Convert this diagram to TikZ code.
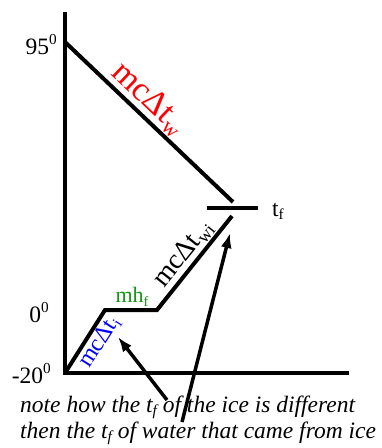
\documentclass[tikz,border=0pt]{standalone}
\usepackage{graphicx}
\usepackage{fontspec}
\setmainfont{Liberation Serif}
\usetikzlibrary{arrows.meta}
\definecolor{lblred}{RGB}{255,0,0}
\definecolor{lblgreen}{RGB}{20,150,20}
\definecolor{lblblue}{RGB}{0,0,255}
\newcommand\mysup[1]{\raisebox{0.42em}{\scalebox{0.65}{#1}}}
\newcommand\mysub[1]{\raisebox{-0.15em}{\scalebox{0.65}{#1}}}
\tikzset{
  curve/.style={line width=4pt},
  pointer/.style={line width=3.5pt,-{Latex[length=15pt,width=11pt]}},
  axlbl/.style={inner sep=0pt,font=\fontsize{23.5}{28}\selectfont},
  slopelbl/.style={sloped,inner sep=1pt},
  notetxt/.style={inner sep=0pt,anchor=base west,font=\fontsize{23.5}{28}\selectfont\itshape}
}
\begin{document}
\begin{tikzpicture}[x=1pt,y=-1pt]
\useasboundingbox (0,0) rectangle (382,448);
\coordinate (ytop) at (65,12);
\coordinate (orig) at (65,373);
\coordinate (xend) at (349,373);
\coordinate (w0) at (65,42);
\coordinate (w1) at (233,202);
\coordinate (barL) at (207,208);
\coordinate (barR) at (258,208);
\coordinate (i1) at (105,310);
\coordinate (i2) at (157,310);
\coordinate (i3) at (232,216);
\coordinate (n1) at (167,400);
\coordinate (n2) at (182,422);
\coordinate (tip1) at (118,337);
\coordinate (tip2) at (230,233);
% axes
\draw[curve] (ytop) -- (orig) -- (xend);
% water cooling
\draw[curve] (w0) -- node[slopelbl,above,pos=0.43,text=lblred,font=\fontsize{34}{38}\selectfont] (lw) {mcΔt\mysub{w}} (w1);
\draw[curve] (barL) -- (barR);
% ice heating
\draw[curve] (orig) -- node[slopelbl,below,pos=0.6,text=lblblue,font=\fontsize{24}{28}\selectfont] (li) {mcΔt\mysub{i}} (i1)
  -- node[above,inner sep=2pt,xshift=1pt,text=lblgreen,font=\fontsize{22}{26}\selectfont] (lh) {mh\mysub{f}} (i2)
  -- node[slopelbl,above,pos=0.5,font=\fontsize{28}{32}\selectfont] (lwi) {mcΔt\mysub{wi}} (i3);
% axis labels
\node[axlbl,anchor=base east] (l95) at (57,54) {95\mysup{0}};
\node[axlbl,anchor=base east] (l0) at (49,322) {0\mysup{0}};
\node[axlbl,anchor=base east] (l20) at (51,383) {-20\mysup{0}};
\node[axlbl,anchor=base west] (ltf) at (272,216) {t\mysub{f}};
% note
\node[notetxt] (note1) at (20,412) {note how the t\mysub{f} of the ice is different};
\node[notetxt] (note2) at (20,438) {then the t\mysub{f} of water that came from ice};
% arrows
\draw[pointer] (n1) -- (tip1);
\draw[pointer] (n2) -- (tip2);
\end{tikzpicture}
\end{document}
